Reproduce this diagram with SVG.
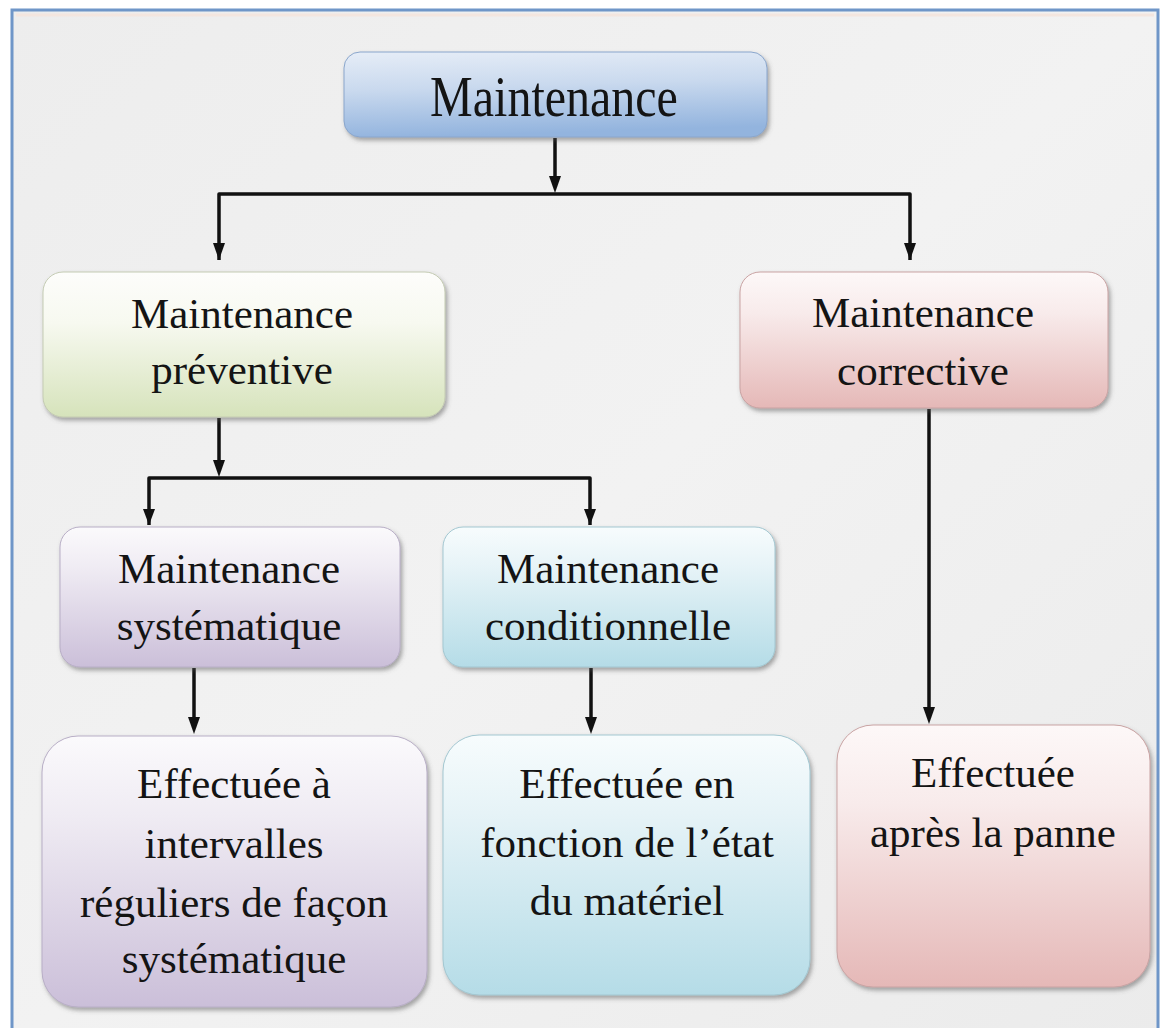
<svg xmlns="http://www.w3.org/2000/svg" width="1165" height="1028" viewBox="0 0 1165 1028">
  <style>
    .lbl { font-family: "Liberation Serif", "Times New Roman", serif; fill: #141414; text-anchor: middle; }
    .mid { font-size: 43px; }
    .top { font-size: 48px; }
    .wire { fill: none; stroke: #111; stroke-width: 3.5; stroke-linejoin: round; }
    .box { filter: url(#shadow); }
  </style>
  <defs>
    <filter id="shadow" x="-10%" y="-10%" width="125%" height="130%">
      <feDropShadow dx="2" dy="3" stdDeviation="2.2" flood-color="#555" flood-opacity="0.5"/>
    </filter>
    <linearGradient id="bg" x1="0" y1="0" x2="1" y2="1">
      <stop offset="0" stop-color="#ededed"/>
      <stop offset="0.5" stop-color="#f2f2f2"/>
      <stop offset="1" stop-color="#ebebeb"/>
    </linearGradient>
    <linearGradient id="gBlueTop" x1="0" y1="0" x2="0.15" y2="1">
      <stop offset="0" stop-color="#e6edf7"/>
      <stop offset="0.45" stop-color="#c9d9ee"/>
      <stop offset="1" stop-color="#93b4de"/>
    </linearGradient>
    <linearGradient id="gGreen" x1="0" y1="0" x2="0" y2="1">
      <stop offset="0" stop-color="#fdfdfb"/>
      <stop offset="0.35" stop-color="#f7f9f0"/>
      <stop offset="1" stop-color="#d6e3bb"/>
    </linearGradient>
    <linearGradient id="gPink" x1="0" y1="0" x2="0" y2="1">
      <stop offset="0" stop-color="#fdf8f8"/>
      <stop offset="0.3" stop-color="#f8ebeb"/>
      <stop offset="1" stop-color="#e5b8b7"/>
    </linearGradient>
    <linearGradient id="gPurple" x1="0" y1="0" x2="0" y2="1">
      <stop offset="0" stop-color="#fbfafc"/>
      <stop offset="0.3" stop-color="#efebf3"/>
      <stop offset="1" stop-color="#cbbfd9"/>
    </linearGradient>
    <linearGradient id="gCyan" x1="0" y1="0" x2="0" y2="1">
      <stop offset="0" stop-color="#f7fcfd"/>
      <stop offset="0.3" stop-color="#e6f3f7"/>
      <stop offset="1" stop-color="#b5dce7"/>
    </linearGradient>
  </defs>

  <!-- page frame -->
  <rect x="0" y="0" width="1165" height="1028" fill="#ffffff"/>
  <rect x="12" y="10" width="1146" height="1040" fill="url(#bg)" stroke="#6f96c8" stroke-width="3"/>
  <line x1="16" y1="15" x2="1154" y2="15" stroke="#f4e6df" stroke-width="3"/>

  <!-- connectors -->
  <g id="connectors">
    <path class="wire" d="M555,138 V176"/>
    <path d="M549,176 L561,176 L555,193 Z" fill="#111"/>
    <path class="wire" d="M219,260 V194 H910 V260"/>
    <path d="M213,243 L225,243 L219,260 Z" fill="#111"/>
    <path d="M904,243 L916,243 L910,260 Z" fill="#111"/>

    <path class="wire" d="M219,418 V462"/>
    <path d="M213,460 L225,460 L219,477 Z" fill="#111"/>
    <path class="wire" d="M149,525 V478 H590 V525"/>
    <path d="M143,509 L155,509 L149,525 Z" fill="#111"/>
    <path d="M584,509 L596,509 L590,525 Z" fill="#111"/>

    <path class="wire" d="M194,668 V718"/>
    <path d="M188,717 L200,717 L194,734 Z" fill="#111"/>
    <path class="wire" d="M591,668 V718"/>
    <path d="M585,717 L597,717 L591,734 Z" fill="#111"/>

    <path class="wire" d="M929,409 V708"/>
    <path d="M923,707 L935,707 L929,724 Z" fill="#111"/>
  </g>

  <!-- root -->
  <g id="maintenance">
    <rect class="box" x="344" y="52" width="423" height="85" rx="16" fill="url(#gBlueTop)" stroke="#8aa6cc" stroke-width="1"/>
    <text class="lbl top" transform="translate(554,116) scale(1,1.2)">Maintenance</text>
  </g>

  <!-- second level -->
  <g id="preventive">
    <rect class="box" x="43" y="272" width="402" height="145" rx="20" fill="url(#gGreen)" stroke="#c4cbb3" stroke-width="1"/>
    <text class="lbl mid" x="242" y="328">Maintenance</text>
    <text class="lbl mid" x="242" y="384">préventive</text>
  </g>

  <g id="corrective">
    <rect class="box" x="740" y="272" width="368" height="136" rx="20" fill="url(#gPink)" stroke="#c9a3a3" stroke-width="1"/>
    <text class="lbl mid" x="923" y="327">Maintenance</text>
    <text class="lbl mid" x="923" y="385">corrective</text>
  </g>

  <!-- third level -->
  <g id="systematique">
    <rect class="box" x="60" y="527" width="340" height="140" rx="20" fill="url(#gPurple)" stroke="#b8aec6" stroke-width="1"/>
    <text class="lbl mid" x="229" y="583">Maintenance</text>
    <text class="lbl mid" x="229" y="640">systématique</text>
  </g>

  <g id="conditionnelle">
    <rect class="box" x="443" y="527" width="332" height="140" rx="20" fill="url(#gCyan)" stroke="#a3c7d1" stroke-width="1"/>
    <text class="lbl mid" x="608" y="583">Maintenance</text>
    <text class="lbl mid" x="608" y="640">conditionnelle</text>
  </g>

  <!-- descriptions -->
  <g id="desc-systematique">
    <rect class="box" x="42" y="736" width="385" height="271" rx="36" fill="url(#gPurple)" stroke="#b8aec6" stroke-width="1"/>
    <text class="lbl mid" x="234" y="798">Effectuée à</text>
    <text class="lbl mid" x="234" y="858">intervalles</text>
    <text class="lbl mid" x="234" y="917">réguliers de façon</text>
    <text class="lbl mid" x="234" y="973">systématique</text>
  </g>

  <g id="desc-conditionnelle">
    <rect class="box" x="443" y="735" width="367" height="260" rx="36" fill="url(#gCyan)" stroke="#a3c7d1" stroke-width="1"/>
    <text class="lbl mid" x="627" y="798">Effectuée en</text>
    <text class="lbl mid" x="627" y="857">fonction de l’état</text>
    <text class="lbl mid" x="627" y="915">du matériel</text>
  </g>

  <g id="desc-corrective">
    <rect class="box" x="837" y="725" width="313" height="262" rx="36" fill="url(#gPink)" stroke="#c9a3a3" stroke-width="1"/>
    <text class="lbl mid" x="993" y="787">Effectuée</text>
    <text class="lbl mid" x="993" y="847">après la panne</text>
  </g>
</svg>
